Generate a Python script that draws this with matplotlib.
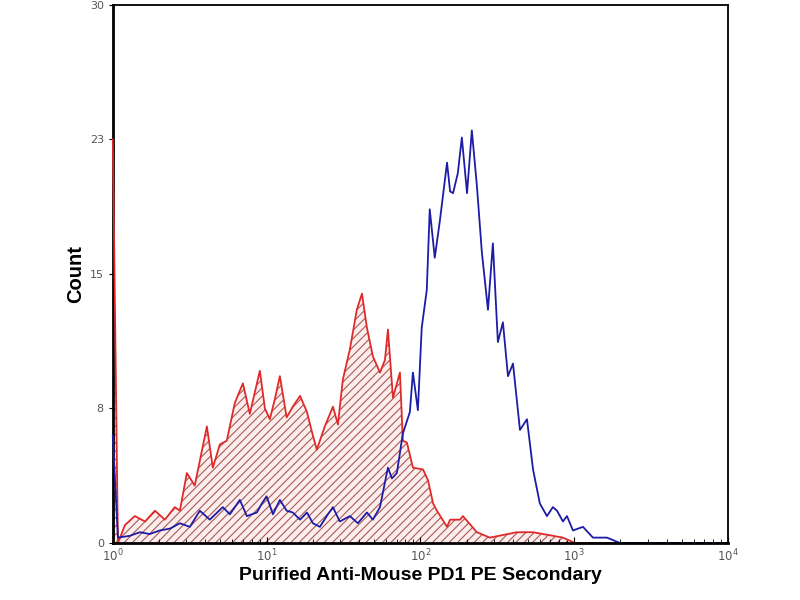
import numpy as np
import matplotlib.pyplot as plt

# control (secondary only) - red, hatched
red_x = [1.0, 1.08, 1.2, 1.39, 1.62, 1.88, 2.18, 2.53, 2.73, 3.03, 3.41, 4.09, 4.47,
         4.97, 5.51, 6.21, 7.01, 7.78, 9.04, 9.75, 10.5, 11.3, 12.2, 13.5, 14.8, 16.5,
         18.3, 19.7, 21.2, 23.9, 27.0, 29.1, 31.3, 34.8, 38.6, 41.7, 44.9, 49.1, 54.6,
         58.8, 61.5, 66.3, 73.6, 76.9, 81.7, 89.4, 104, 112, 121, 128, 149, 156, 181,
         189, 233, 283, 424, 540, 845, 1012, 10000]
red_count = [22.5, 0.0, 1.0, 1.5, 1.2, 1.8, 1.3, 2.0, 1.8, 3.9, 3.2, 6.5, 4.2,
             5.5, 5.7, 7.8, 8.9, 7.2, 9.6, 7.5, 6.9, 8.0, 9.3, 7.0, 7.6, 8.2,
             7.3, 6.2, 5.2, 6.5, 7.6, 6.6, 9.1, 10.8, 13.0, 13.9, 12.0, 10.4, 9.5,
             10.2, 11.9, 8.1, 9.5, 5.7, 5.6, 4.2, 4.1, 3.5, 2.2, 1.8, 0.9, 1.3, 1.3,
             1.5, 0.6, 0.3, 0.6, 0.6, 0.3, 0.0, 0.0]

# anti-PD1 stained - blue
blue_x = [1.0, 1.08, 1.29, 1.5, 1.74, 2.02, 2.35, 2.73, 3.17, 3.68, 4.27, 5.19, 5.77,
          6.7, 7.44, 8.64, 9.31, 10.0, 11.0, 12.2, 13.5, 14.8, 16.5, 18.3, 20.0, 22.2,
          24.6, 27.0, 29.9, 34.8, 39.2, 44.9, 49.1, 54.6, 57.0, 61.5, 65.3, 70.3, 76.9,
          85.4, 89.4, 96.3, 102, 110, 115, 124, 134, 149, 156, 163, 175, 186, 201, 216,
          233, 251, 275, 296, 319, 344, 371, 400, 444, 493, 540, 598, 665, 727, 773,
          845, 897, 982, 1140, 1324, 1633, 1985, 10000]
blue_count = [6.0, 0.3, 0.4, 0.6, 0.5, 0.7, 0.8, 1.1, 0.9, 1.8, 1.3, 2.0, 1.6,
              2.4, 1.5, 1.7, 2.2, 2.6, 1.6, 2.4, 1.8, 1.7, 1.3, 1.7, 1.1, 0.9,
              1.5, 2.0, 1.2, 1.5, 1.1, 1.7, 1.3, 2.0, 2.8, 4.2, 3.6, 3.9, 6.1,
              7.3, 9.5, 7.4, 12.0, 14.1, 18.6, 15.9, 18.0, 21.2, 19.6, 19.5, 20.6, 22.6, 19.5, 23.0,
              19.9, 16.2, 13.0, 16.7, 11.2, 12.3, 9.3, 10.0, 6.3, 6.9, 4.1, 2.2, 1.5, 2.0, 1.8,
              1.2, 1.5, 0.7, 0.9, 0.3, 0.3, 0.0, 0.0]

yticks = [0, 7.5, 15, 22.5, 30]
yticklabels = ['0', '8', '15', '23', '30']
xticks = [1, 10, 100, 1000, 10000]
xticklabels = [r'$10^0$', r'$10^1$', r'$10^2$', r'$10^3$', r'$10^4$']

fig = plt.figure(figsize=(8, 6), dpi=100)
ax = fig.add_axes([0.141, 0.095, 0.769, 0.897])

plt.rcParams['hatch.linewidth'] = 0.8
ax.fill_between(red_x, red_count, facecolor='#fdeeee',
                edgecolor='#a85a55', hatch='////', linewidth=0)
ax.plot(red_x, red_count, color='#e02a2a', linewidth=1.3, zorder=3, clip_on=False)
ax.plot(blue_x, blue_count, color='#1c1ca6', linewidth=1.3, zorder=3, clip_on=False)

ax.set_xscale('log')
ax.set_xlim(1, 10000)
ax.set_ylim(0, 30)
ax.set_xticks(xticks)
ax.set_xticklabels(xticklabels, fontsize=8.5, color='#555555')
ax.set_yticks(yticks)
ax.set_yticklabels(yticklabels, fontsize=8, color='#555555')
ax.tick_params(axis='x', which='both', direction='in', length=4)
ax.tick_params(axis='x', which='minor', length=3)
ax.tick_params(axis='y', direction='out', length=3)
for s in ax.spines.values():
    s.set_linewidth(1.3)
ax.spines['bottom'].set_linewidth(2)
ax.spines['left'].set_linewidth(2)
ax.spines['bottom'].set_zorder(4)
ax.spines['right'].set_zorder(4)

ax.set_xlabel('Purified Anti-Mouse PD1 PE Secondary', fontsize=14, fontweight='bold',
              family='Liberation Sans', labelpad=2)
ax.set_ylabel('Count', fontsize=14.5, fontweight='bold', family='Liberation Sans', labelpad=3)

fig.savefig('out.png', dpi=100)
